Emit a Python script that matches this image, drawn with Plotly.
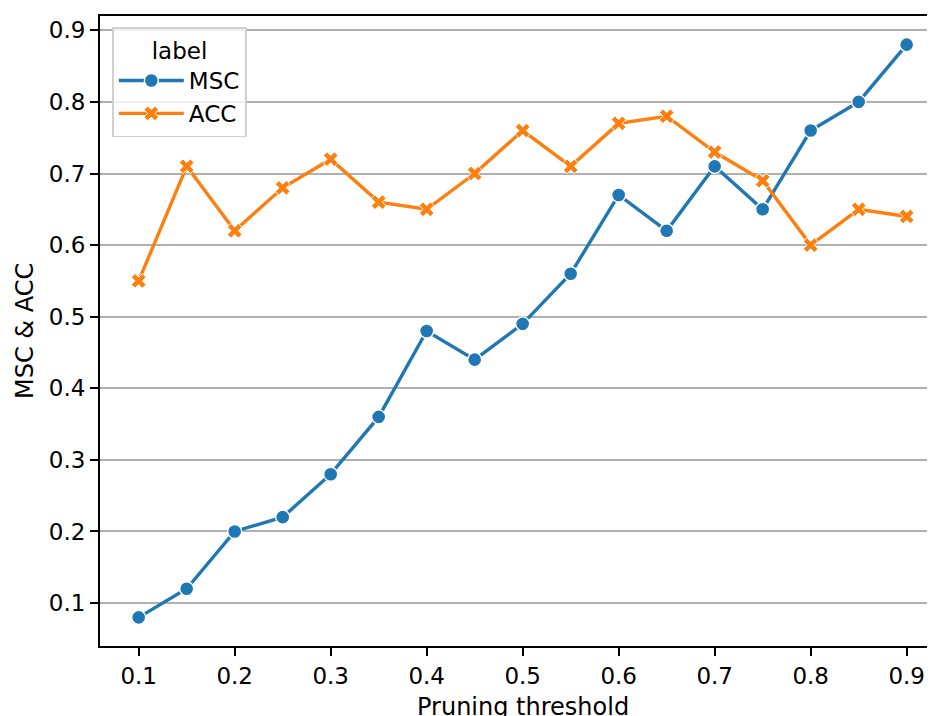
import plotly.graph_objects as go

thresholds = [0.1, 0.15, 0.2, 0.25, 0.3, 0.35, 0.4, 0.45, 0.5, 0.55, 0.6, 0.65, 0.7, 0.75, 0.8, 0.85, 0.9]
msc = [0.08, 0.12, 0.20, 0.22, 0.28, 0.36, 0.48, 0.44, 0.49, 0.56, 0.67, 0.62, 0.71, 0.65, 0.76, 0.80, 0.88]
acc = [0.55, 0.71, 0.62, 0.68, 0.72, 0.66, 0.65, 0.70, 0.76, 0.71, 0.77, 0.78, 0.73, 0.69, 0.60, 0.65, 0.64]
tick_vals = [0.1, 0.2, 0.3, 0.4, 0.5, 0.6, 0.7, 0.8, 0.9]
tick_text = ["0.1", "0.2", "0.3", "0.4", "0.5", "0.6", "0.7", "0.8", "0.9"]
x_title = "Pruning threshold"
y_title = "MSC & ACC"

FONT = "DejaVu Sans"
FS = 23

fig = go.Figure()
fig.add_trace(go.Scatter(
    x=thresholds, y=msc, name="MSC", mode="lines+markers",
    line=dict(color="#1f77b4", width=3.4),
    marker=dict(symbol="circle", size=14, color="#1f77b4", line=dict(color="white", width=1.4)),
))
fig.add_trace(go.Scatter(
    x=thresholds, y=acc, name="ACC", mode="lines+markers",
    line=dict(color="#ff7f0e", width=3.4),
    marker=dict(symbol="x", size=13, color="#ff7f0e", line=dict(color="white", width=1)),
))

# page body has an 8px margin: figure sized 927x708 fills the 935x716 window
fig.update_layout(
    width=927, height=708,
    margin=dict(l=92, r=0, t=8, b=70),
    paper_bgcolor="white", plot_bgcolor="white",
    font=dict(family=FONT, size=FS, color="black"),
    showlegend=True,
    legend=dict(
        x=0.0144, y=0.982, xanchor="left", yanchor="top",
        bgcolor="rgba(255,255,255,0.8)", bordercolor="#d0d0d0", borderwidth=1.8,
        font=dict(family=FONT, size=FS),
        title=dict(text="label", side="top center", font=dict(family=FONT, size=FS)),
        itemwidth=65,
    ),
    annotations=[
        dict(text=x_title, xref="paper", yref="paper", x=0.507, y=-0.0975,
             xanchor="center", yanchor="middle", showarrow=False,
             font=dict(family=FONT, size=24, color="black")),
        dict(text=y_title, xref="paper", yref="paper", x=-0.0898, y=0.5,
             xanchor="center", yanchor="middle", showarrow=False, textangle=-90,
             font=dict(family=FONT, size=24, color="black")),
    ],
)
fig.update_xaxes(
    range=[0.0597, 0.9295], tickvals=tick_vals, ticktext=tick_text,
    showgrid=False, zeroline=False,
    showline=True, linecolor="black", linewidth=1.9, mirror=True,
    ticks="outside", ticklen=8, tickwidth=1.9, tickcolor="black",
    tickfont=dict(family=FONT, size=FS),
)
fig.update_yaxes(
    range=[0.04, 0.92], tickvals=tick_vals, ticktext=tick_text,
    showgrid=True, gridcolor="#b0b0b0", gridwidth=1.9, zeroline=False,
    showline=True, linecolor="black", linewidth=1.9, mirror=False,
    ticks="outside", ticklen=8, tickwidth=1.9, tickcolor="black",
    tickfont=dict(family=FONT, size=FS),
)

fig.write_html("out.html")
